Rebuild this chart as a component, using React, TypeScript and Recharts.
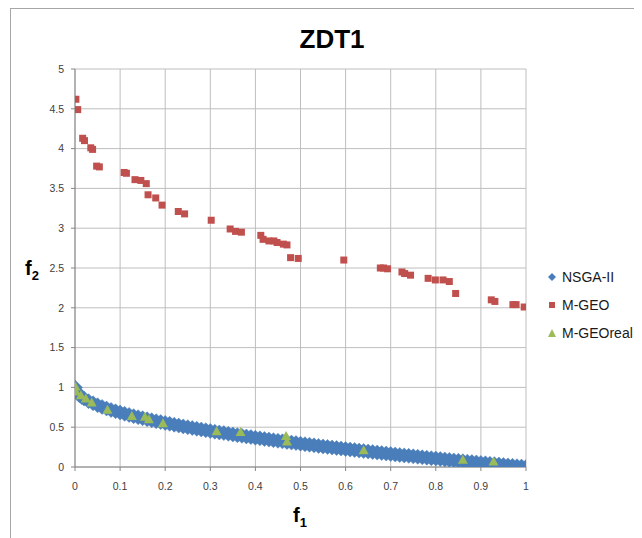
import React from "react";
import {
  ScatterChart,
  Scatter,
  XAxis,
  YAxis,
  CartesianGrid,
} from "recharts";

// NSGA-II front (dense, drawn as a thick band of diamonds)
const nsgaF1 = [
  0, 0.002, 0.005, 0.01, 0.015, 0.02, 0.03, 0.04, 0.05, 0.06, 0.07, 0.08, 0.09,
  0.1, 0.11, 0.12, 0.13, 0.14, 0.15, 0.16, 0.17, 0.18, 0.19, 0.2, 0.21, 0.22,
  0.23, 0.24, 0.25, 0.26, 0.27, 0.28, 0.29, 0.3, 0.31, 0.32, 0.33, 0.34, 0.35,
  0.36, 0.37, 0.38, 0.39, 0.4, 0.41, 0.42, 0.43, 0.44, 0.45, 0.46, 0.47, 0.48,
  0.49, 0.5, 0.51, 0.52, 0.53, 0.54, 0.55, 0.56, 0.57, 0.58, 0.59, 0.6, 0.61,
  0.62, 0.63, 0.64, 0.65, 0.66, 0.67, 0.68, 0.69, 0.7, 0.71, 0.72, 0.73, 0.74,
  0.75, 0.76, 0.77, 0.78, 0.79, 0.8, 0.81, 0.82, 0.83, 0.84, 0.85, 0.86, 0.87,
  0.88, 0.89, 0.9, 0.91, 0.92, 0.93, 0.94, 0.95, 0.96, 0.97, 0.98, 0.99, 1,
];
const nsgaF2 = [
  1, 0.955, 0.929, 0.9, 0.878, 0.859, 0.827, 0.8, 0.776, 0.755, 0.735, 0.717, 0.7,
  0.684, 0.668, 0.654, 0.639, 0.626, 0.613, 0.6, 0.588, 0.576, 0.564, 0.553,
  0.542, 0.531, 0.52, 0.51, 0.5, 0.49, 0.48, 0.471, 0.462, 0.452, 0.443, 0.434,
  0.426, 0.417, 0.408, 0.4, 0.392, 0.384, 0.376, 0.368, 0.36, 0.352, 0.344,
  0.337, 0.329, 0.322, 0.314, 0.307, 0.3, 0.293, 0.286, 0.279, 0.272, 0.265,
  0.258, 0.252, 0.245, 0.238, 0.232, 0.225, 0.219, 0.213, 0.206, 0.2, 0.194,
  0.188, 0.181, 0.175, 0.169, 0.163, 0.157, 0.151, 0.146, 0.14, 0.134, 0.128,
  0.122, 0.117, 0.111, 0.106, 0.1, 0.094, 0.089, 0.083, 0.078, 0.073, 0.067,
  0.062, 0.057, 0.051, 0.046, 0.041, 0.036, 0.03, 0.025, 0.02, 0.015, 0.01,
  0.005, 0,
];

const mgeoF1 = [
  0.002, 0.006, 0.017, 0.021, 0.035, 0.039, 0.048, 0.054, 0.109, 0.114, 0.133,
  0.146, 0.158, 0.162, 0.179, 0.193, 0.229, 0.243, 0.302, 0.344, 0.356, 0.369,
  0.412, 0.417, 0.43, 0.441, 0.448, 0.462, 0.47, 0.478, 0.495, 0.596, 0.677,
  0.684, 0.693, 0.725, 0.731, 0.744, 0.783, 0.799, 0.816, 0.83, 0.844, 0.923,
  0.931, 0.971, 0.978, 0.996,
];
const mgeoF2 = [
  4.62, 4.49, 4.13, 4.1, 4.01, 3.99, 3.78, 3.77, 3.7, 3.69, 3.61, 3.6, 3.56,
  3.42, 3.38, 3.29, 3.21, 3.18, 3.1, 2.99, 2.96, 2.95, 2.91, 2.86, 2.84, 2.84,
  2.82, 2.8, 2.79, 2.63, 2.62, 2.6, 2.5, 2.5, 2.49, 2.45, 2.43, 2.41, 2.37,
  2.35, 2.35, 2.33, 2.18, 2.1, 2.08, 2.04, 2.04, 2.01,
];

const realF1 = [
  0.001, 0.002, 0.013, 0.024, 0.037, 0.072, 0.126, 0.155, 0.164, 0.195, 0.314,
  0.367, 0.468, 0.47, 0.64, 0.86, 0.928,
];
const realF2 = [
  1.01, 0.95, 0.9, 0.86, 0.81, 0.72, 0.64, 0.63, 0.6, 0.55, 0.45, 0.44, 0.39,
  0.32, 0.21, 0.09, 0.07,
];

const xTicks = [0, 0.1, 0.2, 0.3, 0.4, 0.5, 0.6, 0.7, 0.8, 0.9, 1];
const yTicks = [0, 0.5, 1, 1.5, 2, 2.5, 3, 3.5, 4, 4.5, 5];

const BLUE = "#4a7ebb";
const RED = "#c0504d";
const GREEN = "#9bbb59";

const toPoints = (xs: number[], ys: number[]) =>
  xs.map((x, i) => ({ x, y: ys[i] }));

const nsgaData = toPoints(nsgaF1, nsgaF2);
const mgeoData = toPoints(mgeoF1, mgeoF2);
const realData = toPoints(realF1, realF2);

const Diamond = ({ cx, cy }: any) => {
  const r = 7.5;
  return (
    <polygon
      points={`${cx},${cy - r} ${cx + r},${cy} ${cx},${cy + r} ${cx - r},${cy}`}
      fill={BLUE}
      stroke={BLUE}
      strokeWidth={0.5}
    />
  );
};

const Square = ({ cx, cy }: any) => (
  <rect x={cx - 3.5} y={cy - 3.5} width={7} height={7} fill={RED} />
);

const Triangle = ({ cx, cy }: any) => (
  <polygon
    points={`${cx},${cy - 5} ${cx + 5},${cy + 4} ${cx - 5},${cy + 4}`}
    fill={GREEN}
  />
);

const tickStyle = {
  fontFamily: "Liberation Sans, Arial, sans-serif",
  fontSize: 10.5,
  fill: "#404040",
};

const legendItems = [
  { name: "NSGA-II", marker: <polygon points="6,2 10,6 6,10 2,6" fill={BLUE} /> },
  { name: "M-GEO", marker: <rect x={3} y={3} width={6} height={6} fill={RED} /> },
  { name: "M-GEOreal", marker: <polygon points="6,2 10,10 2,10" fill={GREEN} /> },
];

export default function App() {
  return (
    <div style={{ position: "relative", width: 634, height: 530, overflow: "hidden", background: "#fff" }}>
      <div
        style={{
          position: "absolute",
          left: 2,
          top: 0,
          width: 700,
          height: 600,
          borderLeft: "1px solid #a6a6a6",
          borderTop: "1px solid #a6a6a6",
        }}
      />
      <div style={{ position: "absolute", left: 0, top: 0 }}>
        <ScatterChart
          width={626}
          height={522}
          margin={{ top: 61, right: 108, bottom: 0, left: 0 }}
        >
          <CartesianGrid stroke="#bebebe" strokeWidth={1} />
          <XAxis
            type="number"
            dataKey="x"
            domain={[0, 1]}
            ticks={xTicks}
            interval={0}
            height={63}
            tickSize={4}
            tickMargin={12}
            tick={tickStyle}
            stroke="#868686"
            allowDataOverflow
          />
          <YAxis
            type="number"
            dataKey="y"
            domain={[0, 5]}
            ticks={yTicks}
            interval={0}
            width={67}
            tickSize={4}
            tickMargin={7}
            tick={tickStyle}
            stroke="#868686"
            allowDataOverflow
          />
          <Scatter name="NSGA-II" data={nsgaData} shape={Diamond} isAnimationActive={false} />
          <Scatter name="M-GEO" data={mgeoData} shape={Square} isAnimationActive={false} />
          <Scatter name="M-GEOreal" data={realData} shape={Triangle} isAnimationActive={false} />
        </ScatterChart>
      </div>
      <svg
        width={634}
        height={530}
        style={{ position: "absolute", left: 0, top: 0, pointerEvents: "none" }}
        fontFamily="Liberation Sans, Arial, sans-serif"
      >
        <text x={324} y={40} textAnchor="middle" fontSize={26} fontWeight="bold" fill="#000">
          ZDT1
        </text>
        <text x={17} y={267} fontSize={20} fontWeight="bold" fill="#000">
          f<tspan fontSize={13} dy={5}>2</tspan>
        </text>
        <text x={285} y={514} fontSize={20} fontWeight="bold" fill="#000">
          f<tspan fontSize={13} dy={5}>1</tspan>
        </text>
      </svg>
      <div
        style={{
          position: "absolute",
          left: 538,
          top: 255,
          fontFamily: "Liberation Sans, Arial, sans-serif",
          fontSize: 14,
          color: "#1a1a1a",
        }}
      >
        {legendItems.map((it) => (
          <div key={it.name} style={{ display: "flex", alignItems: "center", height: 28, whiteSpace: "nowrap" }}>
            <svg width={12} height={12}>{it.marker}</svg>
            <span style={{ marginLeft: 4 }}>{it.name}</span>
          </div>
        ))}
      </div>
    </div>
  );
}
